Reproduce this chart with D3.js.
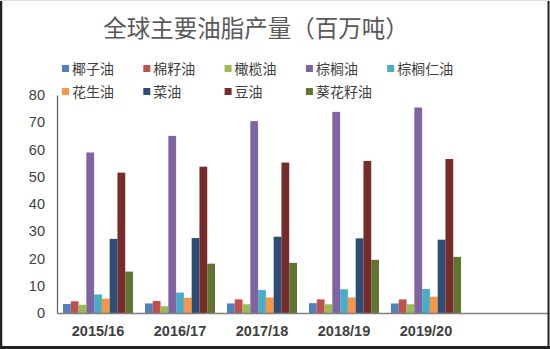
<!DOCTYPE html>
<html><head><meta charset="utf-8">
<script src="https://cdn.jsdelivr.net/npm/d3@7"></script>
<style>body{margin:0;background:#fff}svg{display:block}</style>
</head><body><svg id="c" width="550" height="349"></svg>
<script>
const categories = ["2015/16","2016/17","2017/18","2018/19","2019/20",""];
const seriesNames = ["椰子油","棉籽油","橄榄油","棕榈油","棕榈仁油","花生油","菜油","豆油","葵花籽油"];
const coconut   = [3.3, 3.5, 3.5, 3.6, 3.5];
const cottonseed= [4.3, 4.4, 5.0, 5.0, 5.0];
const olive     = [3.0, 2.5, 3.2, 3.2, 3.2];
const palm      = [58.9, 65.0, 70.4, 73.8, 75.4];
const palmKernel= [6.8, 7.5, 8.4, 8.7, 8.8];
const peanut    = [5.3, 5.6, 5.7, 5.7, 6.0];
const rapeseed  = [27.2, 27.5, 28.0, 27.4, 26.9];
const soybean   = [51.5, 53.7, 55.2, 55.8, 56.5];
const sunflower = [15.2, 18.1, 18.4, 19.5, 20.6];
const yTicks = [0,10,20,30,40,50,60,70,80];
const colors = ["#4F81BD","#C0504D","#9BBB59","#8064A2","#4BACC6","#F79646","#2C4D75","#772C2A","#5F7530"];
const series = [coconut,cottonseed,olive,palm,palmKernel,peanut,rapeseed,soybean,sunflower];

const svg = d3.select("#c");
const W=550,H=349;
const m={left:57,right:1,top:95,bottom:36};
const x = d3.scaleBand().domain(categories).range([m.left,W-m.right]).paddingInner(0.146).paddingOuter(0.073);
const x1 = d3.scaleBand().domain(d3.range(series.length)).range([0,x.bandwidth()]);
const y = d3.scaleLinear().domain([0,80]).range([H-m.bottom,m.top]);

// bars
series.forEach((s,i)=>{
  svg.append("g").selectAll("rect").data(s).join("rect")
    .attr("x",(d,j)=>x(categories[j])+x1(i))
    .attr("width",x1.bandwidth())
    .attr("y",d=>y(d)).attr("height",d=>y(0)-y(d))
    .attr("fill",colors[i]);
});

// y axis
const ya = svg.append("g").attr("transform",`translate(${m.left},0)`)
  .call(d3.axisLeft(y).tickValues(yTicks).tickSize(0).tickPadding(12));
ya.select(".domain").attr("stroke","#595959").attr("stroke-width",1.2);
ya.selectAll("text").attr("font-family","Liberation Sans, Arial, sans-serif").attr("font-size",14.5).attr("fill","#404040");

// x axis
const xa = svg.append("g").attr("transform",`translate(0,${y(0)})`)
  .call(d3.axisBottom(x).tickSize(0).tickPadding(13));
xa.select(".domain").attr("stroke","#7f7f7f").attr("stroke-width",1.5);
xa.selectAll("text").attr("font-family","Liberation Sans, Arial, sans-serif").attr("font-size",14.5).attr("font-weight","bold").attr("fill","#404040");

// title
svg.append("text").attr("x",256).attr("y",37).attr("text-anchor","middle")
  .attr("font-family","Noto Sans CJK SC").attr("font-size",23.5).attr("fill","#595959")
  .text("全球主要油脂产量（百万吨）");

// legend
const lg = svg.append("g");
seriesNames.forEach((n,i)=>{
  const col = i<5? i : i-5, row = i<5?0:1;
  const lx = 63 + col*81.3, ly = 69 + row*23;
  lg.append("rect").attr("x",lx-1).attr("y",ly-4).attr("width",7).attr("height",7).attr("fill",colors[i]);
  lg.append("text").attr("x",lx+9).attr("y",ly+5).attr("font-family","Noto Sans CJK SC").attr("font-size",14).attr("fill","#404040").text(n);
});

// frame
svg.append("line").attr("x1",1).attr("x2",1).attr("y1",0).attr("y2",H).attr("stroke","#222").attr("stroke-width",2.5);
svg.append("line").attr("x1",W-1.5).attr("x2",W-1.5).attr("y1",0).attr("y2",H).attr("stroke","#222").attr("stroke-width",2);
svg.append("line").attr("x1",0).attr("x2",W).attr("y1",H-1.5).attr("y2",H-1.5).attr("stroke","#222").attr("stroke-width",3);
svg.append("line").attr("x1",0).attr("x2",W).attr("y1",0.5).attr("y2",0.5).attr("stroke","#ddd").attr("stroke-width",1);
</script></body></html>
